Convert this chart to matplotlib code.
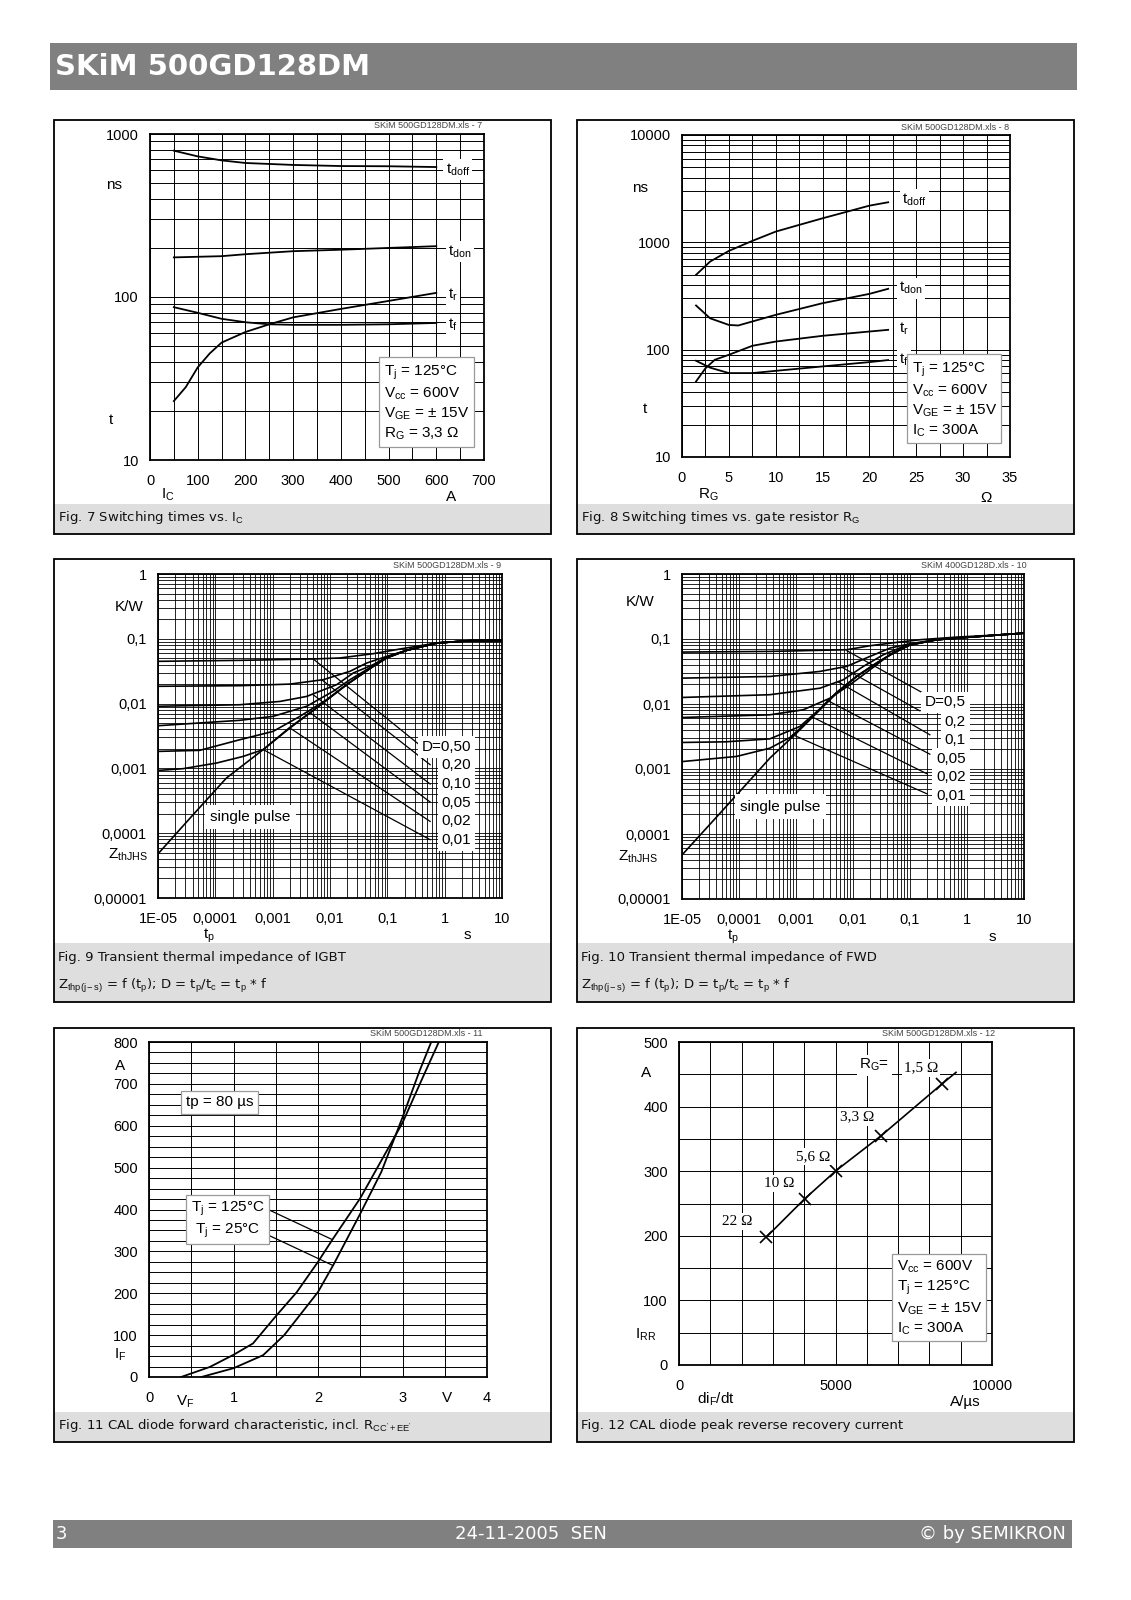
import matplotlib
matplotlib.use("Agg")
import matplotlib.pyplot as plt
from matplotlib.patches import Rectangle
from matplotlib.ticker import LogLocator, MultipleLocator, NullFormatter, FixedLocator, FixedFormatter

W, H = 1131, 1600

# ---- Fig. 7: switching times vs. Ic
f7_tdoff_ic = [50, 100, 150, 200, 300, 400, 500, 600]
f7_tdoff = [790, 729, 689, 664, 646, 636, 634, 627]
f7_tdon_ic = [50, 150, 200, 300, 400, 500, 600]
f7_tdon = [175, 178, 183, 191, 195, 200, 205]
f7_tr_ic = [50, 75, 100, 125, 150, 200, 250, 300, 400, 500, 600]
f7_tr = [23, 28, 37, 45, 52.5, 61, 68, 75, 84.5, 94.6, 106]
f7_tf_ic = [50, 100, 150, 200, 250, 300, 400, 500, 600]
f7_tf = [86.6, 80, 73.5, 70, 68, 67.5, 67.5, 68, 69.3]

# ---- Fig. 8: switching times vs. RG
f8_tdoff_rg = [1.5, 3, 5, 7.5, 10, 12.5, 15, 20, 22]
f8_tdoff = [498, 662, 832, 1031, 1259, 1453, 1675, 2197, 2362]
f8_tdon_rg = [1.5, 3, 5, 6, 10, 15, 20, 22]
f8_tdon = [258, 196, 170, 168, 211, 271, 331, 369]
f8_tr_rg = [1.5, 2.5, 3.5, 5, 7.5, 10, 15, 20, 22]
f8_tr = [50.6, 67, 80.5, 89.6, 108.6, 119, 134.6, 147.6, 153]
f8_tf_rg = [1.5, 3, 5, 7.5, 10, 15, 20, 22]
f8_tf = [78.8, 68, 60.5, 60.5, 63.5, 69.8, 76.6, 80]

# ---- Fig. 9: transient thermal impedance IGBT
f9_sp_t = [1e-5, 4.1e-5, 1.56e-4, 6.84e-4, 2.0e-3, 5.83e-3, 0.0195, 0.0571, 0.0977, 0.218, 0.73, 2.79, 10]
f9_sp_z = [4.8e-5, 1.93e-4, 7.1e-4, 1.95e-3, 4.2e-3, 8.55e-3, 0.0196, 0.0376, 0.0506, 0.0664, 0.0861, 0.0936, 0.094]
f9_d50_t = [1e-5, 2.67e-4, 5.1e-3, 0.0149, 0.0571, 0.167, 0.73, 2.79, 10]
f9_d50_z = [0.0449, 0.0465, 0.0488, 0.0506, 0.059, 0.0696, 0.0861, 0.0936, 0.094]
f9_d20_t = [1e-5, 2.67e-4, 2.0e-3, 7.64e-3, 0.0223, 0.0437, 0.0977, 0.218, 0.73, 2.79, 10]
f9_d20_z = [0.0185, 0.0189, 0.020, 0.0234, 0.0315, 0.0423, 0.0536, 0.0664, 0.0861, 0.0936, 0.094]
f9_d10_t = [1e-5, 2.67e-4, 1.34e-3, 3.91e-3, 0.0131, 0.0255, 0.0571, 0.0977, 0.218, 0.73, 2.79, 10]
f9_d10_z = [0.0091, 0.0096, 0.0108, 0.0129, 0.0196, 0.0297, 0.040, 0.0524, 0.0664, 0.0861, 0.0936, 0.094]
f9_d05_t = [1e-5, 2.67e-4, 1.02e-3, 3.91e-3, 0.0114, 0.0223, 0.0571, 0.0977, 0.218, 0.73, 2.79, 10]
f9_d05_z = [0.00456, 0.00552, 0.00636, 0.00908, 0.0155, 0.0234, 0.0385, 0.0518, 0.0664, 0.0861, 0.0936, 0.094]
f9_d02_t = [1e-5, 5.35e-5, 2.67e-4, 1.02e-3, 2.99e-3, 8.73e-3, 0.0195, 0.0571, 0.0977, 0.218, 0.73, 2.79, 10]
f9_d02_z = [0.00183, 0.0019, 0.00277, 0.00373, 0.00636, 0.0115, 0.0196, 0.038, 0.0512, 0.0664, 0.0861, 0.0936, 0.094]
f9_d01_t = [1e-5, 2.73e-5, 1.05e-4, 3.05e-4, 6.84e-4, 2.0e-3, 5.83e-3, 0.0195, 0.0571, 0.0977, 0.218, 0.73, 2.79, 10]
f9_d01_z = [0.00093, 0.00099, 0.00121, 0.00153, 0.00195, 0.0043, 0.00855, 0.0196, 0.0376, 0.0506, 0.0664, 0.0861, 0.0936, 0.094]
f9_lead_t0 = [5.1e-3, 7.15e-3, 5.1e-3, 4.18e-3, 2.0e-3, 6.84e-4]
f9_lead_z0 = [0.0488, 0.0234, 0.0137, 7.6e-3, 4.2e-3, 1.95e-3]
f9_lead_t1 = [0.349, 0.558, 0.558, 0.558, 0.558, 0.558]
f9_lead_z1 = [2.38e-3, 1.14e-3, 5.74e-4, 3.03e-4, 1.52e-4, 7.94e-5]
f9_labels = ["D=0,50", "0,20", "0,10", "0,05", "0,02", "0,01"]

# ---- Fig. 10: transient thermal impedance FWD
f10_sp_t = [1e-5, 5.93e-5, 3.48e-4, 1.02e-3, 2.3e-3, 5.16e-3, 0.0116, 0.0261, 0.0512, 0.1, 0.296, 1.14, 3.84, 10]
f10_sp_z = [4.76e-5, 2.64e-4, 1.47e-3, 3.56e-3, 7.23e-3, 0.0147, 0.0265, 0.0426, 0.0607, 0.081, 0.0975, 0.107, 0.116, 0.123]
f10_d50_t = [1e-5, 3.48e-4, 7.75e-3, 0.0199, 0.0586, 0.151, 0.664, 3.84, 10]
f10_d50_z = [0.0629, 0.0644, 0.0684, 0.0788, 0.0887, 0.0975, 0.107, 0.116, 0.123]
f10_d20_t = [1e-5, 3.48e-4, 2.63e-3, 7.75e-3, 0.0199, 0.0447, 0.1, 0.296, 1.14, 3.84, 10]
f10_d20_z = [0.025, 0.0265, 0.0317, 0.0379, 0.054, 0.0725, 0.0846, 0.0975, 0.107, 0.116, 0.123]
f10_d10_t = [1e-5, 3.48e-4, 2.63e-3, 6.76e-3, 0.0152, 0.0341, 0.0767, 0.296, 1.14, 3.84, 10]
f10_d10_z = [0.0126, 0.0139, 0.0175, 0.0236, 0.0379, 0.0573, 0.0769, 0.0975, 0.107, 0.116, 0.123]
f10_d05_t = [1e-5, 3.48e-4, 1.34e-3, 3.95e-3, 8.85e-3, 0.0199, 0.0447, 0.1, 0.296, 1.14, 3.84, 10]
f10_d05_z = [0.0062, 0.00682, 0.00815, 0.0123, 0.0198, 0.0336, 0.058, 0.083, 0.0975, 0.107, 0.116, 0.123]
f10_d02_t = [1e-5, 5.93e-5, 3.48e-4, 1.17e-3, 2.63e-3, 5.16e-3, 0.0116, 0.0261, 0.0512, 0.1, 0.296, 1.14, 3.84, 10]
f10_d02_z = [0.00256, 0.00262, 0.00291, 0.00451, 0.00844, 0.0151, 0.0268, 0.043, 0.061, 0.0815, 0.0975, 0.107, 0.116, 0.123]
f10_d01_t = [1e-5, 9.02e-5, 3.48e-4, 7.82e-4, 1.34e-3, 2.3e-3, 5.16e-3, 0.0116, 0.0261, 0.0512, 0.1, 0.296, 1.14, 3.84, 10]
f10_d01_z = [0.0013, 0.00156, 0.00209, 0.00305, 0.00467, 0.00741, 0.0149, 0.0266, 0.0428, 0.0608, 0.0812, 0.0975, 0.107, 0.116, 0.123]
f10_lead_t0 = [7.83e-3, 6.48e-3, 5.44e-3, 3.4e-3, 1.85e-3, 8.8e-4]
f10_lead_z0 = [0.066, 0.0365, 0.022, 0.0116, 6.43e-3, 3.36e-3]
f10_lead_t1 = [0.159, 0.149, 0.223, 0.223, 0.2, 0.2]
f10_lead_z1 = [0.0152, 7.85e-3, 3.36e-3, 1.69e-3, 8.41e-4, 4.14e-4]
f10_labels = ["D=0,5", "0,2", "0,1", "0,05", "0,02", "0,01"]

# ---- Fig. 11: diode forward characteristic
f11_vf_125 = [0.38, 0.72, 1.0, 1.23, 1.5, 1.75, 2.0, 2.18, 2.5, 2.75, 3.0, 3.25, 3.43]
f11_if_125 = [0, 24, 53, 80, 145, 203, 275, 331, 427, 517, 607, 720, 800]
f11_vf_25 = [0.62, 1.0, 1.35, 1.6, 2.0, 2.18, 2.5, 2.75, 3.0, 3.2, 3.34]
f11_if_25 = [0, 21, 52, 100, 203, 267, 390, 490, 620, 730, 800]
f11_lead_v = [(1.41, 2.16), (1.41, 2.17)]
f11_lead_i = [(400, 329), (339, 267)]

# ---- Fig. 12: peak reverse recovery current
f12_didt = [2790, 4010, 5020, 6460, 8400]
f12_irr = [198, 257, 301, 355, 435]
f12_line_didt = [2790, 4010, 5020, 6460, 8400, 8850]
f12_line_irr = [198, 257, 301, 355, 435, 453]
f12_rg_labels = ["22 Ω", "10 Ω", "5,6 Ω", "3,3 Ω", "1,5 Ω"]
f12_rg_x = [1860, 3210, 4300, 5680, 7730]
f12_rg_y = [222, 281, 323, 384, 460]

plt.rcParams['font.family'] = ['Liberation Sans', 'DejaVu Sans']
plt.rcParams['mathtext.fontset'] = 'custom'
plt.rcParams['mathtext.rm'] = 'Liberation Sans'
plt.rcParams['mathtext.it'] = 'Liberation Sans'
plt.rcParams['mathtext.bf'] = 'Liberation Sans:bold'

CAP_FONT = ['DejaVu Sans']
BOX = dict(boxstyle='square,pad=0.3', fc='white', ec='#9a9a9a', lw=0.9)
WBOX = dict(boxstyle='square,pad=0.15', fc='white', ec='none')


def px_rect(l, t, r, b):
    return [l / W, 1 - b / H, (r - l) / W, (b - t) / H]


def style_axes(ax):
    for s in ax.spines.values():
        s.set_linewidth(1.3)
        s.set_color('black')
    ax.tick_params(which='both', length=0, labelsize=10.5, colors='black')
    ax.tick_params(axis='x', pad=10)
    ax.tick_params(axis='y', pad=8)
    ax.grid(which='both', color='black', lw=0.7)
    ax.set_axisbelow(True)


fig = plt.figure(figsize=(W / 100, H / 100), dpi=100)
bg = fig.add_axes([0, 0, 1, 1])
bg.set_xlim(0, W)
bg.set_ylim(H, 0)
bg.axis('off')

# header / footer bars
bg.add_patch(Rectangle((50, 43), 1027, 47, fc='#808080', ec='none'))
bg.text(55, 67, 'SKiM 500GD128DM', color='white', fontsize=21, fontweight='bold',
        family=CAP_FONT, va='center', ha='left')
bg.add_patch(Rectangle((53, 1520), 1019, 28, fc='#808080', ec='none'))
bg.text(56, 1534, '3', color='white', fontsize=13, family=CAP_FONT, va='center')
bg.text(531, 1534, '24-11-2005  SEN', color='white', fontsize=13, family=CAP_FONT,
        va='center', ha='center')
bg.text(1066, 1534, '© by SEMIKRON', color='white', fontsize=13, family=CAP_FONT,
        va='center', ha='right')

# panel frames with caption bands
panels = [(54, 120, 551, 534, 504), (577, 120, 1074, 534, 504),
          (54, 559, 551, 1002, 943), (577, 559, 1074, 1002, 943),
          (54, 1028, 551, 1442, 1412), (577, 1028, 1074, 1442, 1412)]
for l, t, r, b, cap in panels:
    bg.add_patch(Rectangle((l, cap), r - l, b - cap, fc='#dedede', ec='none'))
    bg.add_patch(Rectangle((l, t), r - l, b - t, fc='none', ec='black', lw=1.3))


def caption(x, y, s):
    bg.text(x, y, s, fontsize=9.5, family=CAP_FONT, va='center', ha='left', color='#111111')


def mark(x, y, s):
    bg.text(x, y, s, fontsize=6.5, color='#444444', ha='right', va='center')


def unit(x, y, s, ha='center'):
    bg.text(x, y, s, fontsize=11, ha=ha, va='center')


caption(58, 518, r'Fig. 7 Switching times vs. I$_\mathrm{C}$')
caption(581, 518, r'Fig. 8 Switching times vs. gate resistor R$_\mathrm{G}$')
caption(58, 957, 'Fig. 9 Transient thermal impedance of IGBT')
caption(58, 986, r'Z$_\mathrm{thp(j-s)}$ = f (t$_\mathrm{p}$); D = t$_\mathrm{p}$/t$_\mathrm{c}$ = t$_\mathrm{p}$ * f')
caption(581, 957, 'Fig. 10 Transient thermal impedance of FWD')
caption(581, 986, r'Z$_\mathrm{thp(j-s)}$ = f (t$_\mathrm{p}$); D = t$_\mathrm{p}$/t$_\mathrm{c}$ = t$_\mathrm{p}$ * f')
caption(58, 1425, r"Fig. 11 CAL diode forward characteristic, incl. R$_\mathrm{CC'+EE'}$")
caption(581, 1425, 'Fig. 12 CAL diode peak reverse recovery current')

mark(482, 126, 'SKiM 500GD128DM.xls - 7')
mark(1009, 127, 'SKiM 500GD128DM.xls - 8')
mark(501, 565, 'SKiM 500GD128DM.xls - 9')
mark(1027, 565, 'SKiM 400GD128D.xls - 10')
mark(483, 1034, 'SKiM 500GD128DM.xls - 11')
mark(995, 1034, 'SKiM 500GD128DM.xls - 12')

# ---------------- Fig. 7
ax = fig.add_axes(px_rect(150, 134, 484, 460))
ax.set_xlim(0, 700)
ax.set_yscale('log')
ax.set_ylim(10, 1000)
ax.xaxis.set_major_locator(MultipleLocator(100))
ax.xaxis.set_minor_locator(MultipleLocator(50))
ax.yaxis.set_major_locator(FixedLocator([10, 100, 1000]))
ax.yaxis.set_major_formatter(FixedFormatter(['10', '100', '1000']))
ax.yaxis.set_minor_locator(LogLocator(base=10, subs=range(2, 10)))
ax.yaxis.set_minor_formatter(NullFormatter())
style_axes(ax)
for xs, ys in [(f7_tdoff_ic, f7_tdoff), (f7_tdon_ic, f7_tdon), (f7_tr_ic, f7_tr), (f7_tf_ic, f7_tf)]:
    ax.plot(xs, ys, color='black', lw=1.3)
ax.text(645, 604, r'$\mathrm{t_{doff}}$', fontsize=11, ha='center', va='center', bbox=WBOX)
ax.text(650, 190, r'$\mathrm{t_{don}}$', fontsize=11, ha='center', va='center', bbox=WBOX)
ax.text(635, 103, r'$\mathrm{t_r}$', fontsize=11, ha='center', va='center', bbox=WBOX)
ax.text(635, 68, r'$\mathrm{t_f}$', fontsize=11, ha='center', va='center', bbox=WBOX)
ax.text(0.70, 0.295, 'T$_\\mathrm{j}$ = 125°C\nV$_\\mathrm{cc}$ = 600V\nV$_\\mathrm{GE}$ = ± 15V\nR$_\\mathrm{G}$ = 3,3 Ω',
        transform=ax.transAxes, fontsize=11, va='top', ha='left', linespacing=1.3, bbox=BOX)
unit(114, 185, 'ns')
unit(111, 420, 't')
unit(168, 495, r'I$_\mathrm{C}$')
unit(451, 497, 'A')

# ---------------- Fig. 8
ax = fig.add_axes(px_rect(682, 135, 1010, 457))
ax.set_xlim(0, 35)
ax.set_yscale('log')
ax.set_ylim(10, 10000)
ax.xaxis.set_major_locator(MultipleLocator(5))
ax.xaxis.set_minor_locator(MultipleLocator(2.5))
ax.yaxis.set_major_locator(FixedLocator([10, 100, 1000, 10000]))
ax.yaxis.set_major_formatter(FixedFormatter(['10', '100', '1000', '10000']))
ax.yaxis.set_minor_locator(LogLocator(base=10, subs=range(2, 10)))
ax.yaxis.set_minor_formatter(NullFormatter())
style_axes(ax)
for xs, ys in [(f8_tdoff_rg, f8_tdoff), (f8_tdon_rg, f8_tdon), (f8_tr_rg, f8_tr), (f8_tf_rg, f8_tf)]:
    ax.plot(xs, ys, color='black', lw=1.3)
ax.text(24.8, 2483, r'$\mathrm{t_{doff}}$', fontsize=11, ha='center', va='center', bbox=WBOX)
ax.text(24.4, 374, r'$\mathrm{t_{don}}$', fontsize=11, ha='center', va='center', bbox=WBOX)
ax.text(23.7, 158, r'$\mathrm{t_r}$', fontsize=11, ha='center', va='center', bbox=WBOX)
ax.text(23.7, 80.5, r'$\mathrm{t_f}$', fontsize=11, ha='center', va='center', bbox=WBOX)
ax.text(0.70, 0.30, 'T$_\\mathrm{j}$ = 125°C\nV$_\\mathrm{cc}$ = 600V\nV$_\\mathrm{GE}$ = ± 15V\nI$_\\mathrm{C}$ = 300A',
        transform=ax.transAxes, fontsize=11, va='top', ha='left', linespacing=1.3, bbox=BOX)
unit(640, 188, 'ns')
unit(645, 409, 't')
unit(708, 495, r'R$_\mathrm{G}$')
unit(986, 498, 'Ω')


# ---------------- Fig. 9 / 10 thermal impedance
def thermal(rect, curves, sp, leads, labels, lab_x, lab_y, sp_xy, umarks):
    ax = fig.add_axes(px_rect(*rect))
    ax.set_xscale('log')
    ax.set_yscale('log')
    ax.set_xlim(1e-5, 10)
    ax.set_ylim(1e-5, 1)
    ax.xaxis.set_major_locator(FixedLocator([1e-5, 1e-4, 1e-3, 1e-2, 1e-1, 1, 10]))
    ax.xaxis.set_major_formatter(FixedFormatter(['1E-05', '0,0001', '0,001', '0,01', '0,1', '1', '10']))
    ax.yaxis.set_major_locator(FixedLocator([1e-5, 1e-4, 1e-3, 1e-2, 1e-1, 1]))
    ax.yaxis.set_major_formatter(FixedFormatter(['0,00001', '0,0001', '0,001', '0,01', '0,1', '1']))
    for a in (ax.xaxis, ax.yaxis):
        a.set_minor_locator(LogLocator(base=10, subs=range(2, 10), numticks=20))
        a.set_minor_formatter(NullFormatter())
    style_axes(ax)
    ax.grid(which='both', color='black', lw=0.6)
    for ts, zs in curves:
        ax.plot(ts, zs, color='black', lw=1.2)
    ax.plot(sp[0], sp[1], color='black', lw=1.2)
    t0, z0, t1, z1 = leads
    for i in range(len(t0)):
        ax.plot([t0[i], t1[i]], [z0[i], z1[i]], color='black', lw=0.9)
    for s, y in zip(labels, lab_y):
        ax.text(lab_x, y, s, transform=ax.transAxes, fontsize=11, ha='right', va='center',
                bbox=dict(boxstyle='square,pad=0.25', fc='white', ec='none'))
    ax.text(sp_xy[0], sp_xy[1], 'single pulse', transform=ax.transAxes, fontsize=11,
            ha='center', va='center', bbox=dict(boxstyle='square,pad=0.35', fc='white', ec='none'))
    for x, y, s in umarks:
        unit(x, y, s)


thermal((158, 574, 502, 898),
        [(f9_d50_t, f9_d50_z), (f9_d20_t, f9_d20_z), (f9_d10_t, f9_d10_z),
         (f9_d05_t, f9_d05_z), (f9_d02_t, f9_d02_z), (f9_d01_t, f9_d01_z)],
        (f9_sp_t, f9_sp_z), (f9_lead_t0, f9_lead_z0, f9_lead_t1, f9_lead_z1),
        f9_labels, 0.91, [0.466, 0.409, 0.352, 0.294, 0.237, 0.178], (0.269, 0.25),
        [(129, 607, 'K/W'), (128, 855, r'Z$_\mathrm{thJHS}$'), (209, 936, r't$_\mathrm{p}$'), (467, 935, 's')])

thermal((682, 574, 1024, 899),
        [(f10_d50_t, f10_d50_z), (f10_d20_t, f10_d20_z), (f10_d10_t, f10_d10_z),
         (f10_d05_t, f10_d05_z), (f10_d02_t, f10_d02_z), (f10_d01_t, f10_d01_z)],
        (f10_sp_t, f10_sp_z), (f10_lead_t0, f10_lead_z0, f10_lead_t1, f10_lead_z1),
        f10_labels, 0.83, [0.605, 0.546, 0.490, 0.431, 0.375, 0.318], (0.287, 0.284),
        [(640, 602, 'K/W'), (638, 857, r'Z$_\mathrm{thJHS}$'), (733, 937, r't$_\mathrm{p}$'), (992, 937, 's')])

# ---------------- Fig. 11
ax = fig.add_axes(px_rect(149, 1042, 487, 1377))
ax.set_xlim(0, 4)
ax.set_ylim(0, 800)
ax.xaxis.set_major_locator(MultipleLocator(1))
ax.xaxis.set_minor_locator(MultipleLocator(0.5))
ax.yaxis.set_major_locator(MultipleLocator(100))
ax.yaxis.set_minor_locator(MultipleLocator(25))
style_axes(ax)
ax.plot(f11_vf_125, f11_if_125, color='black', lw=1.3)
ax.plot(f11_vf_25, f11_if_25, color='black', lw=1.3)
for v, i in zip(f11_lead_v, f11_lead_i):
    ax.plot(v, i, color='black', lw=0.9)
ax.text(0.108, 0.82, 'tp = 80 µs', transform=ax.transAxes, fontsize=11, ha='left', va='center', bbox=BOX)
ax.text(0.233, 0.47, 'T$_\\mathrm{j}$ = 125°C\nT$_\\mathrm{j}$ = 25°C', transform=ax.transAxes, fontsize=11,
        ha='center', va='center', multialignment='center', linespacing=1.3, bbox=BOX)
unit(120, 1066, 'A')
unit(120, 1355, r'I$_\mathrm{F}$')
unit(185, 1402, r'V$_\mathrm{F}$')
unit(447, 1398, 'V')

# ---------------- Fig. 12
ax = fig.add_axes(px_rect(679, 1042, 992, 1365))
ax.set_xlim(0, 10000)
ax.set_ylim(0, 500)
ax.xaxis.set_major_locator(MultipleLocator(5000))
ax.xaxis.set_minor_locator(MultipleLocator(1000))
ax.yaxis.set_major_locator(MultipleLocator(100))
ax.yaxis.set_minor_locator(MultipleLocator(50))
style_axes(ax)
ax.plot(f12_line_didt, f12_line_irr, color='black', lw=1.2)
ax.plot(f12_didt, f12_irr, ls='none', marker='x', ms=8, mew=1.2, color='black')
for s, x, y in zip(f12_rg_labels, f12_rg_x, f12_rg_y):
    ax.text(x, y, s, fontsize=11, family=['Liberation Serif', 'DejaVu Serif'], ha='center', va='center', bbox=WBOX)
ax.text(6245, 464, r'R$_\mathrm{G}$=', fontsize=11, ha='center', va='center', bbox=WBOX)
ax.text(0.695, 0.33, 'V$_\\mathrm{cc}$ = 600V\nT$_\\mathrm{j}$ = 125°C\nV$_\\mathrm{GE}$ = ± 15V\nI$_\\mathrm{C}$ = 300A',
        transform=ax.transAxes, fontsize=11, va='top', ha='left', linespacing=1.3, bbox=BOX)
unit(646, 1073, 'A')
unit(646, 1335, r'I$_\mathrm{RR}$')
unit(716, 1399, r'di$_\mathrm{F}$/dt')
unit(965, 1402, 'A/µs')

fig.savefig('out.png', dpi=100)
